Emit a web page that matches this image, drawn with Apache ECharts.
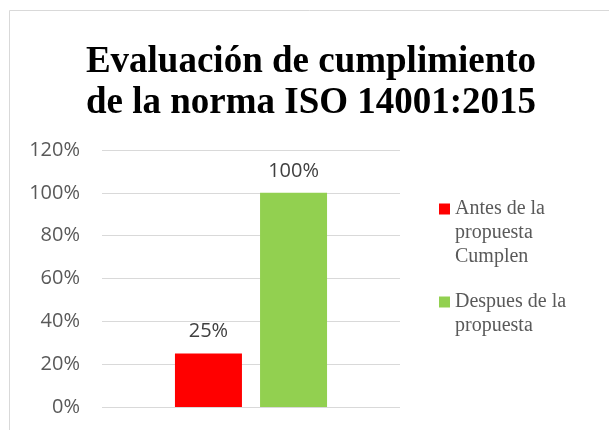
<!DOCTYPE html>
<html>
<head>
<meta charset="UTF-8">
<title>ECharts</title>
<style>
  html, body { margin: 0; padding: 0; background: #fff; }
  #main { width: 609px; height: 430px; }
</style>
</head>
<body>
<div id="main"></div>
<script src="https://cdn.jsdelivr.net/npm/echarts@6/dist/echarts.min.js"></script>
<script>
var categories = ['Cumplen'];
var seriesNames = ['Antes de la propuesta Cumplen', 'Despues de la propuesta'];
var antesValues = [25];
var despuesValues = [100];
var yTicks = [0, 20, 40, 60, 80, 100, 120];

// saltos de línea de la leyenda; las líneas vacías delante dejan el
// cuadrado a la altura de la primera línea de texto
var legendText = {
  'Antes de la propuesta Cumplen': '\n\nAntes de la\npropuesta\nCumplen',
  'Despues de la propuesta': '\nDespues de la\npropuesta'
};

function legendBox(name, top) {
  return {
    orient: 'vertical',
    left: 439,
    top: top,
    padding: 0,
    itemWidth: 11,
    itemHeight: 11,
    icon: 'rect',
    formatter: function (n) { return legendText[n] || n; },
    textStyle: {
      fontFamily: 'Liberation Serif',
      fontSize: 20,
      lineHeight: 24,
      color: '#595959'
    },
    data: [name]
  };
}

var labelStyle = {
  show: true, position: 'top', distance: 12, formatter: '{c}%',
  fontFamily: 'Open Sans', fontSize: 20, color: '#404040'
};

var myChart = echarts.init(document.getElementById('main'));

myChart.setOption({
  animation: false,
  title: {
    text: 'Evaluación de cumplimiento\nde la norma ISO 14001:2015',
    left: 306,
    textAlign: 'center',
    top: 37,
    textStyle: {
      fontFamily: 'Liberation Serif',
      fontWeight: 'bold',
      fontSize: 37,
      lineHeight: 41,
      color: '#000'
    }
  },
  graphic: [{
    type: 'rect',
    shape: { x: 9.5, y: 10.5, width: 640, height: 460 },
    style: { fill: 'none', stroke: '#d9d9d9', lineWidth: 1 },
    silent: true
  }],
  grid: { left: 102, right: 209, top: 150, bottom: 23 },
  legend: [
    legendBox(seriesNames[0], 149),
    legendBox(seriesNames[1], 266)
  ],
  xAxis: {
    type: 'category',
    data: categories,
    axisLine: { show: false },
    axisTick: { show: false },
    axisLabel: { show: false }
  },
  yAxis: {
    type: 'value',
    min: yTicks[0],
    max: yTicks[yTicks.length - 1],
    interval: 20,
    axisLine: { show: false },
    axisTick: { show: false },
    splitLine: { lineStyle: { color: '#d9d9d9', width: 1 } },
    axisLabel: {
      formatter: '{value}%',
      fontFamily: 'Open Sans',
      fontSize: 20,
      color: '#595959',
      margin: 22
    }
  },
  series: [{
    name: seriesNames[0],
    type: 'bar',
    data: antesValues,
    barWidth: 67,
    barGap: '27%',
    itemStyle: { color: '#ff0000' },
    label: labelStyle
  }, {
    name: seriesNames[1],
    type: 'bar',
    data: despuesValues,
    barWidth: 67,
    itemStyle: { color: '#92d050' },
    label: labelStyle
  }]
});
</script>
</body>
</html>
